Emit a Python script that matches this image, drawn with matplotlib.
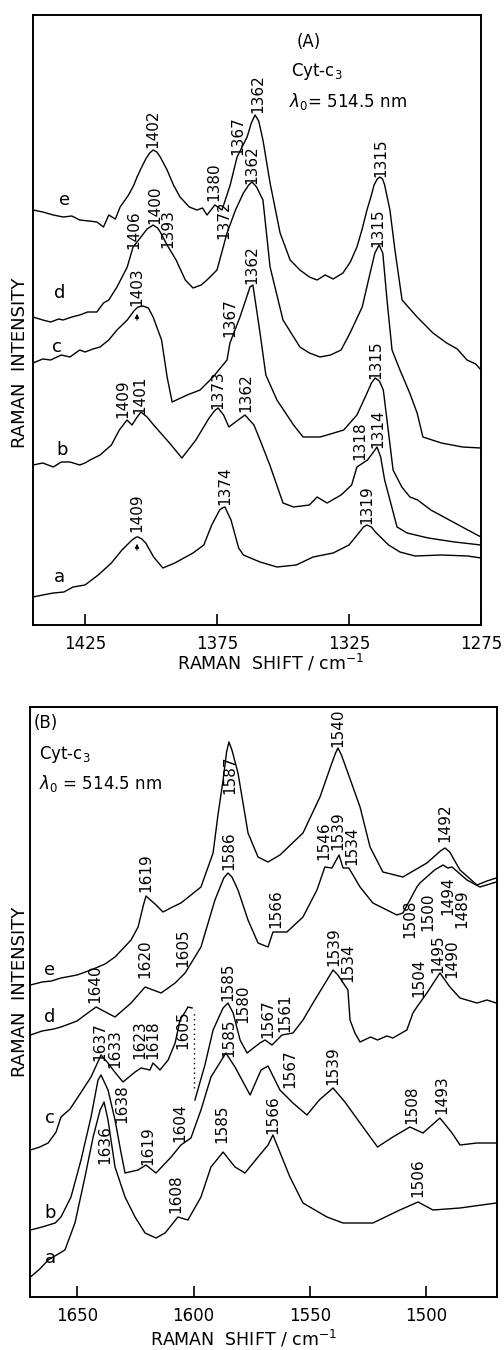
import matplotlib
matplotlib.use("Agg")
import matplotlib.pyplot as plt

# ---------------- Panel A data (wavenumber, relative intensity) ----------------
A_e_x = [1444.7, 1441, 1437, 1433.3, 1430, 1427, 1423.5, 1420.5, 1418, 1416, 1413.5, 1411.7, 1408.5, 1406.5, 1405.3,
         1403.5, 1402, 1400.5, 1399.2, 1397.8, 1396.5, 1393.9, 1391.5, 1389, 1385.5, 1382.6, 1380.5, 1378.8, 1375.8,
         1373.1, 1370, 1367.4, 1363.6, 1362, 1360.6, 1359.2, 1357.6, 1354.9, 1351.1, 1347.3, 1343.6, 1340, 1337.1,
         1334, 1331, 1327.3, 1324.5, 1322, 1320, 1318.2, 1316.5, 1315.5, 1314.3, 1313.3, 1312.3, 1311.5, 1309.5,
         1307.6, 1304.9, 1299.2, 1293.2, 1288, 1284, 1280.3, 1277, 1275]
A_e_y = [415, 413, 410, 408, 409, 405, 404, 403, 398, 410, 406, 418, 430, 440, 448,
         458, 466, 472, 475, 473, 468, 455, 440, 428, 418, 415, 417, 410, 420,
         415, 440, 468, 488, 502, 510, 504, 485, 442, 392, 365, 355, 348, 345,
         350, 346, 352, 363, 378, 396, 415, 430, 440, 446, 448, 446, 440, 415,
         375, 325, 308, 292, 282, 276, 265, 261, 255]

A_d_x = [1444.7, 1441, 1438, 1435, 1433.3, 1430, 1427, 1424, 1420.5, 1418, 1416, 1412.9, 1409, 1406.8, 1403.8,
         1401.5, 1399.2, 1397.5, 1396.5, 1393.9, 1390.5, 1387, 1384.1, 1381, 1378.8, 1375, 1371.2, 1368, 1365,
         1363, 1361.7, 1360, 1357.6, 1354.9, 1350, 1343.6, 1340, 1336, 1332, 1328, 1324.6, 1320, 1317, 1315.2,
         1313.6, 1312.2, 1310.6, 1308.7, 1305.7, 1302, 1299.2, 1297, 1290, 1282, 1275]
A_d_y = [308, 305, 303, 306, 305, 308, 310, 313, 313, 322, 325, 338, 358, 378, 388,
         396, 400, 397, 393, 380, 365, 345, 337, 340, 345, 355, 392, 415, 432,
         440, 443, 438, 425, 358, 305, 278, 272, 268, 270, 275, 292, 318, 352, 372,
         380, 372, 325, 275, 255, 232, 212, 188, 182, 178, 177]

A_c_x = [1444.7, 1441, 1438, 1434, 1430.7, 1427, 1425, 1422, 1419.3, 1416, 1412.9, 1409, 1406.5, 1404.9, 1403,
         1401, 1399.2, 1396, 1393.9, 1392, 1386.3, 1381.4, 1376.5, 1371.2, 1370.1, 1366.3, 1363.5, 1362.5, 1361.4,
         1358.7, 1356.5, 1352.3, 1346, 1342.4, 1336, 1333.3, 1327, 1322, 1318.5, 1316.5, 1315.1, 1313.5, 1312,
         1308.3, 1305, 1301.9, 1299, 1294, 1287, 1280, 1275]
A_c_y = [262, 266, 265, 270, 268, 275, 273, 276, 278, 285, 295, 305, 314, 318, 319,
         317, 308, 285, 248, 223, 230, 235, 248, 265, 282, 308, 330, 338, 340,
         292, 250, 225, 200, 188, 188, 190, 195, 210, 230, 242, 247, 244, 235,
         155, 138, 128, 125, 115, 105, 95, 88]

A_b_x = [1444.7, 1441, 1437, 1434, 1430.7, 1427, 1425, 1423.1, 1419.3, 1415, 1412, 1409.1, 1407.2, 1405.5, 1403.8,
         1401.5, 1399, 1393, 1388.3, 1383, 1378, 1376, 1374.6, 1372.5, 1370.5, 1367, 1364.4, 1361, 1358.7, 1355,
         1350, 1346, 1340, 1337.1, 1333.3, 1328, 1324, 1322, 1318, 1316, 1314.4, 1313, 1311.5, 1306.8, 1303, 1295,
         1285, 1275]
A_b_y = [160, 162, 158, 163, 163, 160, 162, 165, 170, 180, 195, 205, 200, 207, 213,
         208, 200, 182, 167, 185, 207, 214, 217, 210, 198, 205, 210, 200, 185, 160,
         122, 118, 120, 128, 122, 130, 140, 158, 165, 172, 178, 168, 145, 98, 92, 87,
         83, 80]

A_a_x = [1444.7, 1441, 1437, 1433, 1429.5, 1425, 1420, 1415, 1411, 1407.2, 1405.5, 1404.9, 1403.5, 1402, 1399,
         1395.5, 1391, 1384.1, 1380, 1377, 1375, 1374, 1373, 1372, 1369.7, 1366.8, 1365, 1358.7, 1352.3, 1345,
         1338.6, 1331, 1325, 1321, 1319.5, 1318.2, 1316.5, 1315, 1310, 1305.7, 1300, 1290, 1280, 1275]
A_a_y = [28, 30, 32, 33, 38, 40, 50, 62, 75, 85, 88, 88, 86, 82, 68,
         57, 62, 72, 80, 100, 110, 115, 117, 118, 105, 77, 70, 63, 58, 60,
         68, 72, 80, 93, 98, 100, 98, 93, 80, 73, 69, 70, 69, 67]

# ---------------- Panel B data ----------------
B_e_x = [1670, 1665, 1661, 1656.9, 1650, 1644, 1638, 1633.7, 1626.8, 1623.8, 1621.5, 1620.4, 1619, 1616.5, 1613.1,
         1609, 1605.4, 1596.8, 1591.6, 1589.5, 1587.3, 1585.8, 1584.8, 1583.5, 1580.9, 1576.6, 1572.3, 1568, 1562.9,
         1553, 1545.7, 1540.6, 1539, 1538, 1536.5, 1533.7, 1528.5, 1524.2, 1518.7, 1510.1, 1499.8, 1494, 1492,
         1490, 1485.6, 1478.3, 1474, 1470]
B_e_y = [312, 315, 316, 319, 322, 327, 333, 340, 357, 370, 392, 401, 398, 393, 385,
         390, 394, 410, 444, 482, 517, 545, 555, 547, 524, 464, 440, 435, 442,
         464, 500, 534, 544, 549, 542, 524, 490, 450, 425, 420, 434, 446, 449,
         445, 427, 412, 416, 419]

B_d_x = [1670, 1665, 1660, 1656.9, 1650, 1646.6, 1641.8, 1637, 1633.7, 1626.8, 1620.8, 1613.9, 1607.9, 1603.6,
         1596.8, 1590.8, 1587, 1585.2, 1583.5, 1580.9, 1576.6, 1572.3, 1568, 1565.9, 1559.9, 1553, 1547, 1543.6,
         1540.6, 1537.5, 1535.8, 1533.3, 1528.5, 1523, 1517, 1512.7, 1510.1, 1504.1, 1502.8, 1496.5, 1492.9,
         1490.8, 1489, 1482.6, 1477, 1470]
B_d_y = [262, 266, 268, 270, 276, 282, 290, 284, 280, 294, 310, 304, 314, 324,
         350, 397, 419, 424, 420, 407, 377, 354, 350, 365, 365, 380, 407, 430,
         429, 442, 429, 429, 410, 394, 387, 382, 384, 410, 414, 427, 432,
         429, 430, 417, 410, 415]

B_c1_x = [1670, 1666, 1662.4, 1659, 1656.9, 1653, 1649.6, 1644, 1639.7, 1636.7, 1634.5, 1630.3, 1625.1, 1622.5,
          1618.7, 1617.4, 1614.4, 1610.9, 1607.9, 1605.8, 1603.6, 1602.4, 1600.6]
B_c1_y = [147, 150, 154, 165, 180, 188, 200, 220, 242, 234, 227, 215, 225, 229,
          227, 234, 227, 237, 254, 277, 285, 290, 289]

B_c2_x = [1599.4, 1595.1, 1591.6, 1587.3, 1585.2, 1583, 1580, 1577, 1571.5, 1569.3, 1566.3, 1562, 1557.3,
          1553, 1548.7, 1544, 1540.1, 1538, 1533.7, 1532.8, 1530.7, 1528.5, 1524, 1521, 1517, 1514.4, 1508.4,
          1505.8, 1504.1, 1499.8, 1494.2, 1489.9, 1485.6, 1478.3, 1474, 1470]
B_c2_y = [197, 232, 267, 289, 294, 284, 257, 244, 254, 257, 252, 262, 264,
          277, 294, 312, 327, 322, 307, 277, 264, 255, 260, 257, 261, 259, 267,
          284, 290, 304, 324, 310, 299, 294, 297, 294]

B_b_x = [1670, 1665, 1659.4, 1656.9, 1652.6, 1648.3, 1644, 1641, 1639.7, 1636.7, 1633.7, 1631.1, 1629.4,
         1623.8, 1620.4, 1616.1, 1609.6, 1605.4, 1601.1, 1596.8, 1592.5, 1586.1, 1582.2, 1575.7, 1571, 1568,
         1562.9, 1557.3, 1551.3, 1546, 1540.1, 1535, 1528.5, 1521, 1514.4, 1507.1, 1501.5, 1494.2, 1489,
         1485.6, 1478.3, 1470]
B_b_y = [67, 70, 74, 80, 100, 137, 180, 217, 222, 207, 177, 144, 124,
         127, 132, 124, 140, 152, 159, 187, 220, 244, 230, 202, 227, 231,
         207, 194, 182, 197, 209, 195, 174, 150, 160, 170, 164, 179, 164,
         152, 154, 154]

B_a_x = [1670, 1666, 1662.4, 1655.2, 1650.9, 1646.6, 1643.1, 1640.1, 1638.4, 1636.7, 1633.7, 1629.4, 1625.1,
         1620.8, 1616.1, 1612.2, 1606.7, 1602.4, 1596.8, 1592.5, 1587.3, 1582.2, 1577.9, 1572.3, 1568, 1565.9,
         1558.6, 1553, 1542.7, 1535.8, 1523, 1511.4, 1503.6, 1497.2, 1485.6, 1470]
B_a_y = [20, 28, 37, 47, 74, 120, 160, 187, 195, 177, 130, 100, 80,
         64, 59, 64, 80, 77, 100, 130, 145, 130, 124, 140, 152, 162,
         120, 94, 80, 74, 74, 87, 95, 87, 89, 94]

# ---------------- peak labels (text, wavenumber, intensity) ----------------
A_labels = [("1402", 1399.2, 496), ("1380", 1376.1, 443), ("1367", 1367.0, 489), ("1362", 1359.5, 531),
            ("1315", 1312.9, 467), ("1406", 1406.4, 395), ("1400", 1398.5, 420), ("1393", 1393.6, 396),
            ("1372", 1372.3, 405), ("1362", 1361.7, 460), ("1315", 1314.0, 397), ("1403", 1405.3, 338),
            ("1367", 1370.1, 307), ("1362", 1361.7, 360), ("1315", 1314.8, 265), ("1409", 1410.6, 226),
            ("1401", 1404.2, 230), ("1373", 1374.6, 235), ("1362", 1364.0, 232), ("1318", 1320.8, 184),
            ("1314", 1314.0, 196), ("1409", 1405.3, 112), ("1374", 1372.0, 139), ("1319", 1318.2, 120)]

B_labels = [("1587", 1584.3, 522), ("1540", 1538.0, 569), ("1619", 1620.4, 424), ("1492", 1492.1, 474),
            ("1640", 1642.3, 313), ("1620", 1620.8, 338), ("1605", 1604.5, 349), ("1586", 1584.8, 446),
            ("1566", 1564.6, 388), ("1546", 1544.0, 456), ("1539", 1538.0, 466), ("1534", 1532.0, 451),
            ("1508", 1507.1, 378), ("1500", 1499.4, 385), ("1494", 1490.8, 401), ("1489", 1484.8, 388),
            ("1637", 1640.1, 255), ("1633", 1633.7, 248), ("1623", 1623.0, 257), ("1618", 1617.4, 257),
            ("1605", 1604.5, 267), ("1585", 1585.2, 315), ("1580", 1578.8, 293), ("1567", 1568.0, 278),
            ("1561", 1560.7, 284), ("1539", 1539.7, 350), ("1534", 1533.7, 334), ("1504", 1503.2, 319),
            ("1495", 1495.1, 343), ("1490", 1489.1, 338), ("1638", 1630.7, 193), ("1619", 1619.5, 151),
            ("1604", 1605.8, 174), ("1585", 1584.8, 259), ("1567", 1558.6, 228), ("1539", 1540.1, 231),
            ("1508", 1506.2, 192), ("1493", 1493.3, 202), ("1636", 1638.0, 152), ("1608", 1607.5, 103),
            ("1585", 1587.8, 173), ("1566", 1565.9, 182), ("1506", 1503.6, 119)]

curve_names = ["a", "b", "c", "d", "e"]
A_name_pos = [(1434.5, 48), (1433.7, 175), (1435.6, 278), (1434.5, 332), (1432.6, 425)]
B_name_pos = [(1661.6, 39), (1661.6, 84), (1661.6, 179), (1661.6, 280), (1661.6, 327)]

A_ticks = [1425, 1375, 1325, 1275]
B_ticks = [1650, 1600, 1550, 1500]

# ---------------- figure ----------------
W, H = 504, 1350
fig = plt.figure(figsize=(W / 100, H / 100), dpi=100)
fig.patch.set_facecolor("white")

def px_axes(l, t, r, b):
    return fig.add_axes([l / W, 1 - b / H, (r - l) / W, (b - t) / H])

axA = px_axes(33, 15, 481, 625)
axB = px_axes(30, 707, 497, 1297)

lw = 1.0
LBL = 11
for x, y in [(A_e_x, A_e_y), (A_d_x, A_d_y), (A_c_x, A_c_y), (A_b_x, A_b_y), (A_a_x, A_a_y)]:
    axA.plot(x, y, color="black", lw=lw)
for x, y in [(B_e_x, B_e_y), (B_d_x, B_d_y), (B_c1_x, B_c1_y), (B_c2_x, B_c2_y), (B_b_x, B_b_y), (B_a_x, B_a_y)]:
    axB.plot(x, y, color="black", lw=lw)

axB.plot([1600, 1600], [209, 287], color="black", lw=1.0, ls=(0, (1, 2.5)))

for ax, labs in [(axA, A_labels), (axB, B_labels)]:
    for t, x, y in labs:
        ax.text(x, y, t, rotation=90, ha="center", va="center", fontsize=LBL)

# small upward arrows just below two peak tops in panel A
for x, ytop in [(1405.3, 314), (1405.3, 84)]:
    axA.annotate("", xy=(x, ytop), xytext=(x, ytop - 12),
                 arrowprops=dict(arrowstyle="-|>", lw=0.8, color="black", mutation_scale=6))

for ax, pos in [(axA, A_name_pos), (axB, B_name_pos)]:
    for n, (x, y) in zip(curve_names, pos):
        ax.text(x, y, n, ha="center", va="center", fontsize=13)

axA.set_xlim(1444.7, 1275)
axA.set_ylim(0, 610)
axB.set_xlim(1670.2, 1469.7)
axB.set_ylim(0, 590)
axA.set_xticks(A_ticks)
axB.set_xticks(B_ticks)

for ax in (axA, axB):
    ax.set_yticks([])
    ax.tick_params(axis="x", direction="in", length=8, width=1.2, labelsize=12, pad=7)
    for s in ax.spines.values():
        s.set_linewidth(1.4)

axA.text(0.615, 0.955, "(A)", transform=axA.transAxes, fontsize=12, ha="center", va="center")
axA.text(0.575, 0.908, r"Cyt-c$_3$", transform=axA.transAxes, fontsize=12, ha="left", va="center")
axA.text(0.572, 0.858, r"$\lambda_0$= 514.5 nm", transform=axA.transAxes, fontsize=12, ha="left", va="center")

axB.text(0.008, 0.973, "(B)", transform=axB.transAxes, fontsize=12, ha="left", va="center")
axB.text(0.02, 0.92, r"Cyt-c$_3$", transform=axB.transAxes, fontsize=12, ha="left", va="center")
axB.text(0.02, 0.871, r"$\lambda_0$ = 514.5 nm", transform=axB.transAxes, fontsize=12, ha="left", va="center")

fig.text(271 / W, 1 - 663 / H, r"RAMAN  SHIFT / cm$^{-1}$", ha="center", va="center", fontsize=12.5)
fig.text(244 / W, 1 - 1339 / H, r"RAMAN  SHIFT / cm$^{-1}$", ha="center", va="center", fontsize=12.5)
fig.text(20 / W, 1 - 363 / H, "RAMAN  INTENSITY", rotation=90, ha="center", va="center", fontsize=13)
fig.text(20 / W, 1 - 992 / H, "RAMAN  INTENSITY", rotation=90, ha="center", va="center", fontsize=13)

fig.savefig("out.png", dpi=100)
